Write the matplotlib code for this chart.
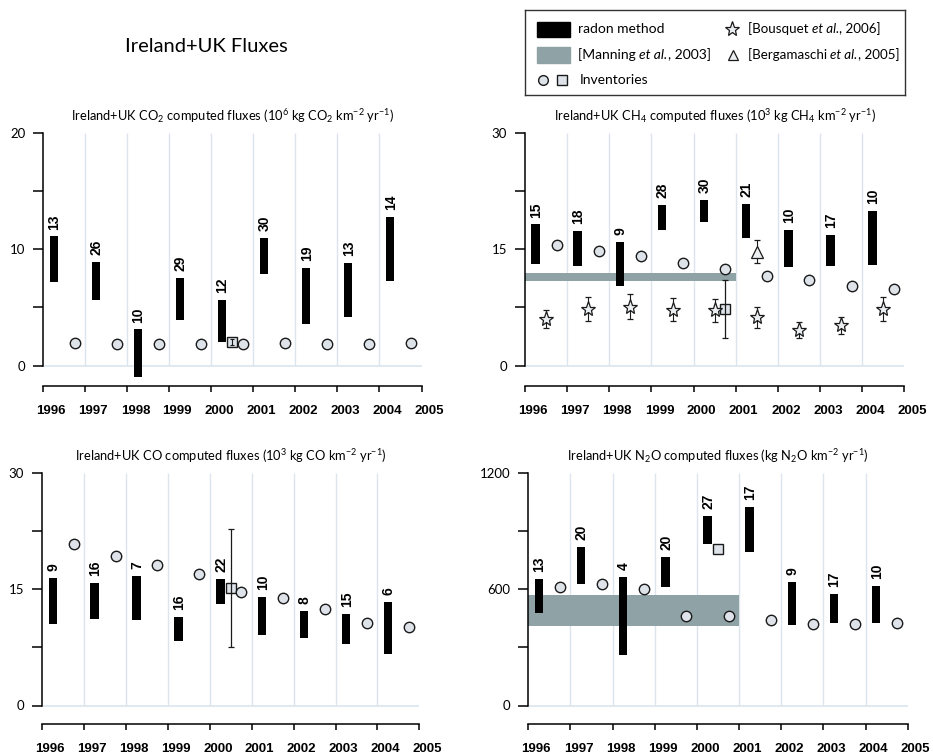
import matplotlib
matplotlib.use("Agg")
import matplotlib.pyplot as plt
import matplotlib.transforms as mtransforms
from matplotlib.patches import Rectangle
import numpy as np

plt.rcParams["font.family"] = ["Lato", "DejaVu Sans"]
plt.rcParams["mathtext.fontset"] = "custom"
plt.rcParams["mathtext.rm"] = "Lato"
plt.rcParams["mathtext.it"] = "Lato:italic"
plt.rcParams["mathtext.bf"] = "Lato:bold"

# ── data ──────────────────────────────────────────────────────────────────────
years = np.arange(1996, 2005)
year_ticks = np.arange(1996, 2006)

co2_lo = [7.2, 5.6, -1.0, 3.9, 2.0, 7.9, 3.6, 4.2, 7.3]
co2_hi = [11.1, 8.9, 3.1, 7.5, 5.6, 11.0, 8.4, 8.8, 12.8]
co2_n = [13, 26, 10, 29, 12, 30, 19, 13, 14]
co2_inv = [1.9, 1.85, 1.85, 1.85, 1.85, 1.9, 1.85, 1.85, 1.9]
co2_sq, co2_sq_err = 2.0, 0.25

ch4_lo = [13.1, 12.9, 10.3, 17.5, 18.5, 16.5, 12.7, 12.9, 13.0]
ch4_hi = [18.2, 17.3, 15.9, 20.7, 21.4, 20.9, 17.5, 16.9, 19.9]
ch4_n = [15, 18, 9, 28, 30, 21, 10, 17, 10]
ch4_inv = [15.5, 14.8, 14.1, 13.2, 12.5, 11.5, 11.0, 10.3, 9.9]
ch4_bousquet = [6.0, 7.3, 7.6, 7.2, 7.1, 6.2, 4.6, 5.2, 7.3]
ch4_bousquet_err = [1.2, 1.6, 1.6, 1.5, 1.5, 1.3, 1.0, 1.1, 1.5]
ch4_manning = (10.9, 12.0)
ch4_berg, ch4_berg_err = 14.7, 1.5
ch4_sq, ch4_sq_err = 7.3, 3.7

co_lo = [10.5, 11.2, 11.0, 8.3, 13.1, 9.1, 8.7, 8.0, 6.6]
co_hi = [16.5, 15.8, 16.7, 11.4, 16.3, 14.0, 12.2, 11.8, 13.4]
co_n = [9, 16, 7, 16, 22, 10, 8, 15, 6]
co_inv = [20.8, 19.3, 18.1, 17.0, 14.6, 13.9, 12.4, 10.7, 10.1]
co_sq, co_sq_err = 15.2, 7.6

n2o_lo = [478, 626, 263, 612, 835, 791, 416, 426, 426]
n2o_hi = [655, 820, 665, 768, 978, 1026, 636, 574, 615]
n2o_n = [13, 20, 4, 20, 27, 17, 9, 17, 10]
n2o_inv = [612, 629, 600, 464, 462, 440, 423, 419, 426]
n2o_sq = 806
n2o_manning = (409, 569)

# ── styles ────────────────────────────────────────────────────────────────────
W, H = 933, 754
GRID = "#dce5ee"
MANNING = "#8fa2a5"
FACE = "#dde3e9"
BOLD = "Liberation Sans"

fig = plt.figure(figsize=(W / 100, H / 100), dpi=100)


def make_axes(x0, x1, y_top, y_zero, y_line, ymax, yticks, ylabels, title):
    """Axes in pixel geometry: x0/x1 = 1996/2005, y_top = ymax, y_zero = 0."""
    per = (y_zero - y_top) / ymax
    ybot = -(y_line - y_zero) / per
    ax = fig.add_axes([x0 / W, 1 - y_line / H, (x1 - x0) / W, (y_line - y_top) / H])
    ax.set_xlim(1996, 2005)
    ax.set_ylim(ybot, ymax)
    for s in ("top", "right"):
        ax.spines[s].set_visible(False)
    ax.spines["left"].set_bounds(0, ymax)
    ax.spines["bottom"].set_bounds(1996, 2005)
    ax.spines["left"].set_linewidth(1.1)
    ax.spines["bottom"].set_linewidth(1.1)

    ax.set_yticks(yticks)
    ax.set_yticklabels(ylabels)
    ax.tick_params(axis="y", length=7, width=1.1, pad=6, labelsize=9.5)
    ax.set_xticks(year_ticks)
    ax.set_xticklabels([str(y) for y in year_ticks], fontfamily=BOLD,
                       fontweight="bold", fontsize=9.5)
    ax.tick_params(axis="x", length=4, width=1.1, pad=10)
    offset = mtransforms.ScaledTranslation(8 / 100, 0, fig.dpi_scale_trans)
    for lbl in ax.get_xticklabels():
        lbl.set_transform(lbl.get_transform() + offset)

    # light grid
    ax.vlines(year_ticks[1:-1], 0, ymax, color=GRID, lw=1, zorder=0)
    ax.hlines(0, 1996, 2005, color=GRID, lw=1.2, zorder=0)
    ax.set_title(title, fontsize=9.3, pad=8.5)
    return ax


def draw_bars(ax, lo, hi, n):
    lo = np.array(lo, dtype=float)
    hi = np.array(hi, dtype=float)
    x = years + 0.25
    ax.bar(x, hi - lo, bottom=lo, width=0.2, color="black", zorder=2)
    for xi, top, k in zip(x, hi, n):
        ax.annotate(str(k), (xi, top), xytext=(0.5, 5), textcoords="offset points",
                    rotation=90, ha="center", va="bottom", fontsize=10,
                    fontfamily=BOLD, fontweight="bold", annotation_clip=False)


def draw_inv(ax, vals):
    ax.plot(years + 0.75, vals, "o", ls="none", ms=7.5, mfc=FACE, mec="#1a1a1a",
            mew=1.0, zorder=4)


def draw_square(ax, x, y, err=None):
    if err is not None:
        ax.errorbar(x, y, yerr=err, fmt="none", ecolor="#1a1a1a", elinewidth=0.9,
                    capsize=2, capthick=0.9, zorder=4)
    ax.plot(x, y, "s", ms=7, mfc=FACE, mec="#1a1a1a", mew=1.0, zorder=3)


# ── CO2 ───────────────────────────────────────────────────────────────────────
ax = make_axes(43.3, 421.5, 133, 365.5, 386, 20, [0, 5, 10, 15, 20],
               ["0", "", "10", "", "20"],
               r"Ireland+UK CO$_2$ computed fluxes (10$^6$ kg CO$_2$ km$^{-2}$ yr$^{-1}$)")
draw_bars(ax, co2_lo, co2_hi, co2_n)
draw_inv(ax, co2_inv)
draw_square(ax, 2000.5, co2_sq)
ax.errorbar(2000.5, co2_sq, yerr=co2_sq_err, fmt="none", ecolor="#1a1a1a",
            elinewidth=0.8, capsize=1.5, capthick=0.8, zorder=5)

# ── CH4 ───────────────────────────────────────────────────────────────────────
ax = make_axes(525, 904.3, 133, 365.5, 386, 30, [0, 7.5, 15, 22.5, 30],
               ["0", "", "15", "", "30"],
               r"Ireland+UK CH$_4$ computed fluxes (10$^3$ kg CH$_4$ km$^{-2}$ yr$^{-1}$)")
ax.fill_between([1996, 2001], ch4_manning[0], ch4_manning[1], color=MANNING,
                lw=0, zorder=1)
draw_bars(ax, ch4_lo, ch4_hi, ch4_n)
draw_inv(ax, ch4_inv)
ax.errorbar(years + 0.5, ch4_bousquet, yerr=ch4_bousquet_err, fmt="*", ms=11,
            mfc="#eceff2", mec="#1a1a1a", mew=0.9, ecolor="#1a1a1a",
            elinewidth=0.8, capsize=2, capthick=0.8, zorder=4)
ax.errorbar(2001.5, ch4_berg, yerr=ch4_berg_err, fmt="^", ms=8, mfc="#eceff2",
            mec="#1a1a1a", mew=0.9, ecolor="#1a1a1a", elinewidth=0.8, capsize=2,
            capthick=0.8, zorder=4)
draw_square(ax, 2000.75, ch4_sq, ch4_sq_err)

# ── CO ────────────────────────────────────────────────────────────────────────
ax = make_axes(42.3, 419.3, 473, 705.5, 723.5, 30, [0, 7.5, 15, 22.5, 30],
               ["0", "", "15", "", "30"],
               r"Ireland+UK CO computed fluxes (10$^3$ kg CO km$^{-2}$ yr$^{-1}$)")
draw_bars(ax, co_lo, co_hi, co_n)
draw_inv(ax, co_inv)
draw_square(ax, 2000.5, co_sq, co_sq_err)

# ── N2O ───────────────────────────────────────────────────────────────────────
ax = make_axes(528.3, 907.7, 473, 705.5, 723.5, 1200, [0, 300, 600, 900, 1200],
               ["0", "", "600", "", "1200"],
               r"Ireland+UK N$_2$O computed fluxes (kg N$_2$O km$^{-2}$ yr$^{-1}$)")
ax.fill_between([1996, 2001], n2o_manning[0], n2o_manning[1], color=MANNING,
                lw=0, zorder=1)
draw_bars(ax, n2o_lo, n2o_hi, n2o_n)
draw_inv(ax, n2o_inv)
draw_square(ax, 2000.5, n2o_sq)

# ── headline + legend ─────────────────────────────────────────────────────────
fig.text(206 / W, 1 - 47 / H, "Ireland+UK Fluxes", ha="center", va="center",
         fontsize=14.5)

lg = fig.add_axes([525 / W, 1 - 95 / H, 380 / W, 85 / H])
lg.set_xlim(0, 380)
lg.set_ylim(85, 0)
lg.set_xticks([])
lg.set_yticks([])
for s in lg.spines.values():
    s.set_linewidth(1.0)
    s.set_color("#333333")
lg.add_patch(Rectangle((12, 12), 33, 15, color="black"))
lg.add_patch(Rectangle((12, 37), 33, 16, color=MANNING))
lg.plot(18, 70, "o", ms=7, mfc=FACE, mec="#1a1a1a", mew=1.0)
lg.plot(37, 70, "s", ms=6.5, mfc=FACE, mec="#1a1a1a", mew=1.0)
lg.plot(207, 19, "*", ms=11, mfc="#eceff2", mec="#1a1a1a", mew=0.9)
lg.plot(208, 45, "^", ms=7.5, mfc="#eceff2", mec="#1a1a1a", mew=0.9)
lg.text(53, 19, "radon method", va="center", fontsize=10)
lg.text(55, 70, "Inventories", va="center", fontsize=10)


def ref_entry(x, y, author, year, size=10):
    # author + italic "et al." + year, chained so the comma sits right after "al."
    t1 = lg.text(x, y, f"[{author} ", va="baseline", fontsize=size)
    t2 = lg.annotate("et al.", xy=(1, 0), xycoords=t1, va="bottom", ha="left",
                     fontsize=size, fontstyle="italic")
    lg.annotate(f", {year}]", xy=(1, 0), xycoords=t2, va="bottom", ha="left",
                fontsize=size)


ref_entry(53, 49, "Manning", 2003)
ref_entry(223, 23, "Bousquet", 2006, 9.6)
ref_entry(223, 49, "Bergamaschi", 2005, 9.6)

fig.savefig("out.png", dpi=100)
